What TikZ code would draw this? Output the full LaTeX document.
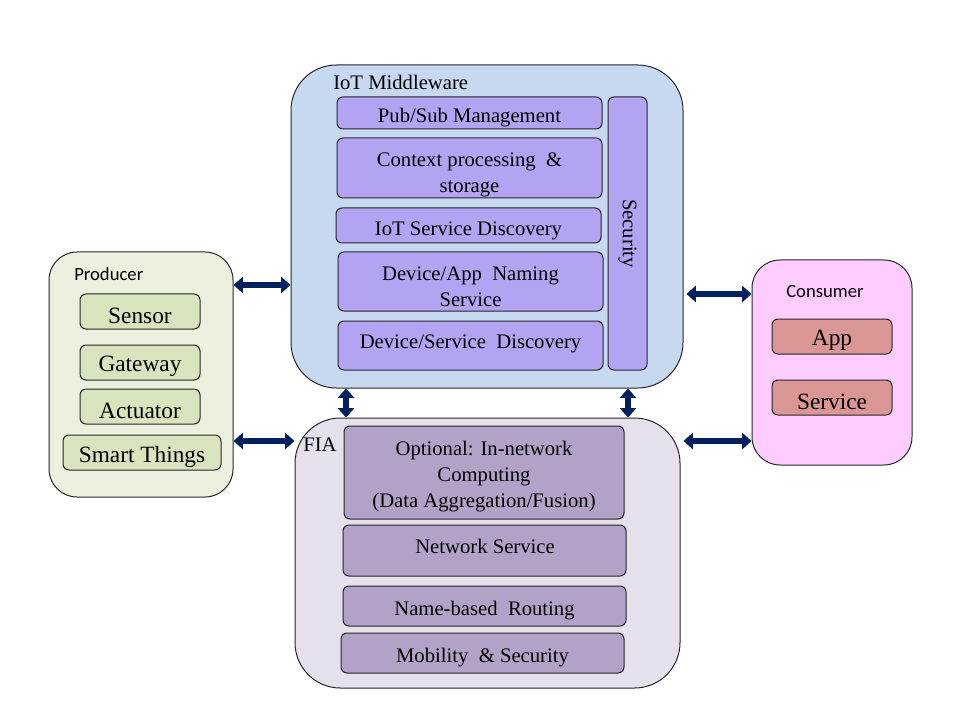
\documentclass[tikz,border=0pt]{standalone}
\usepackage{fontspec}
\setmainfont{Liberation Serif}
\newfontfamily\calib{Carlito}
\usetikzlibrary{fit,arrows.meta}
\definecolor{mwfill}{HTML}{C6D9F1}
\definecolor{mwbox}{HTML}{B3A3F2}
\definecolor{fiafill}{HTML}{E6E0EC}
\definecolor{fiabox}{HTML}{B3A2C7}
\definecolor{prodfill}{HTML}{EBF1DE}
\definecolor{prodbox}{HTML}{D7E4BD}
\definecolor{consfill}{HTML}{FFCCFF}
\definecolor{consbox}{HTML}{D99694}
\definecolor{arrowc}{HTML}{002060}
\begin{document}
\begin{tikzpicture}[x=0.75pt,y=-0.75pt,
  grp/.style={draw=black!85, line width=0.75pt, inner sep=0pt},
  ibox/.style={draw=black!85, line width=0.75pt, inner sep=0pt, rounded corners=4.5pt},
  txtbase/.style={inner sep=0pt, align=center, font=\fontsize{15.5pt}{19.5pt}\selectfont},
  txt/.style={txtbase, yshift=-3.75pt},
  bigtxt/.style={inner sep=0pt, align=center, font=\fontsize{17.5pt}{20pt}\selectfont, yshift=-3pt},
  lbl/.style={anchor=base west, inner sep=0pt, font=\fontsize{15.5pt}{19pt}\selectfont},
  slbl/.style={anchor=base west, inner sep=0pt, font=\calib\fontsize{14pt}{17pt}\selectfont},
  dblarr/.style={draw=arrowc, line width=4.5pt, {Triangle[width=12pt,length=7pt]}-{Triangle[width=12pt,length=7pt]}}
]
\useasboundingbox (0,0) rectangle (960,720);

% IoT Middleware
\node[grp, fill=mwfill, rounded corners=34pt, fit={(291,65)(683,388)}] (mw) {};
\node[lbl] (mwl) at (333,90) {IoT Middleware};
\node[ibox, fill=mwbox, fit={(337,97)(602,129)}] (pub) {};
\node[txt] (pubt) at (pub) {Pub/Sub Management};
\node[ibox, fill=mwbox, fit={(337,138)(602,198)}] (ctx) {};
\node[txt] (ctxt) at (469.5,170) {Context processing \ \&\\storage};
\node[ibox, fill=mwbox, fit={(336,208)(601,243)}] (isd) {};
\node[txt] (isdt) at (isd) {IoT Service Discovery};
\node[ibox, fill=mwbox, fit={(338,252)(603,311)}] (dan) {};
\node[txt] (dant) at (470.5,282) {Device/App \ Naming\\Service};
\node[ibox, fill=mwbox, fit={(338,321)(603,370)}] (dsd) {};
\node[txt] (dsdt) at (470.5,339) {Device/Service \ Discovery};
\node[ibox, fill=mwbox, fit={(608,97)(647,370)}] (sec) {};
\node[txtbase, rotate=-90] (sect) at (sec.center) {Security};

% Producer
\node[grp, fill=prodfill, rounded corners=21pt, fit={(49,252)(233,497)}] (prod) {};
\node[slbl] (prodl) at (74,281) {Producer};
\node[ibox, fill=prodbox, fit={(80,294)(200,329)}] (sensor) {};
\node[bigtxt] (sensort) at (sensor) {Sensor};
\node[ibox, fill=prodbox, fit={(80,345)(200,380)}] (gw) {};
\node[bigtxt] (gwt) at (gw) {Gateway};
\node[ibox, fill=prodbox, fit={(80,389)(200,424)}] (act) {};
\node[bigtxt] (actt) at (act) {Actuator};
\node[ibox, fill=prodbox, fit={(63,435)(221,470)}] (smart) {};
\node[bigtxt] (smartt) at (smart) {Smart Things};

% FIA
\node[grp, fill=fiafill, rounded corners=34pt, fit={(295,418)(680,688)}] (fia) {};
\node[lbl] (fial) at (303,451) {FIA};
\node[ibox, fill=fiabox, fit={(344,426)(624,519)}] (opt) {};
\node[txt] (optt) at (484,472) {Optional: In-network\\Computing\\(Data Aggregation/Fusion)};
\node[ibox, fill=fiabox, fit={(343,525)(626,576)}] (ns) {};
\node[txt] (nst) at (485,541) {Network Service};
\node[ibox, fill=fiabox, fit={(343,586)(626,626)}] (nbr) {};
\node[txt] (nbrt) at (nbr) {Name-based \ Routing};
\node[ibox, fill=fiabox, fit={(341,633)(624,673)}] (mob) {};
\node[txt] (mobt) at (mob) {Mobility \ \& Security};

% Consumer
\node[grp, fill=consfill, rounded corners=21pt, fit={(752,260)(912,465)}] (cons) {};
\node[slbl] (consl) at (786,297) {Consumer};
\node[ibox, fill=consbox, fit={(772,319)(892,354)}] (app) {};
\node[bigtxt] (appt) at (app) {App};
\node[ibox, fill=consbox, fit={(772,380)(892,415)}] (svc) {};
\node[bigtxt] (svct) at (svc) {Service};

% Arrows
\coordinate (a1) at (0,285);
\coordinate (a2) at (0,441);
\coordinate (a3) at (0,294);
\coordinate (v1) at (346,0);
\coordinate (v2) at (628,0);
\draw[dblarr] (prod.east |- a1) -- (mw.west |- a1);
\draw[dblarr] (prod.east |- a2) -- (fia.west |- a2);
\draw[dblarr] ([xshift=2.25pt]mw.east |- a3) -- (cons.west |- a3);
\draw[dblarr] ([xshift=2.25pt]fia.east |- a2) -- (cons.west |- a2);
\draw[dblarr] (v1 |- mw.south) -- (v1 |- fia.north);
\draw[dblarr] (v2 |- mw.south) -- (v2 |- fia.north);
\end{tikzpicture}
\end{document}
